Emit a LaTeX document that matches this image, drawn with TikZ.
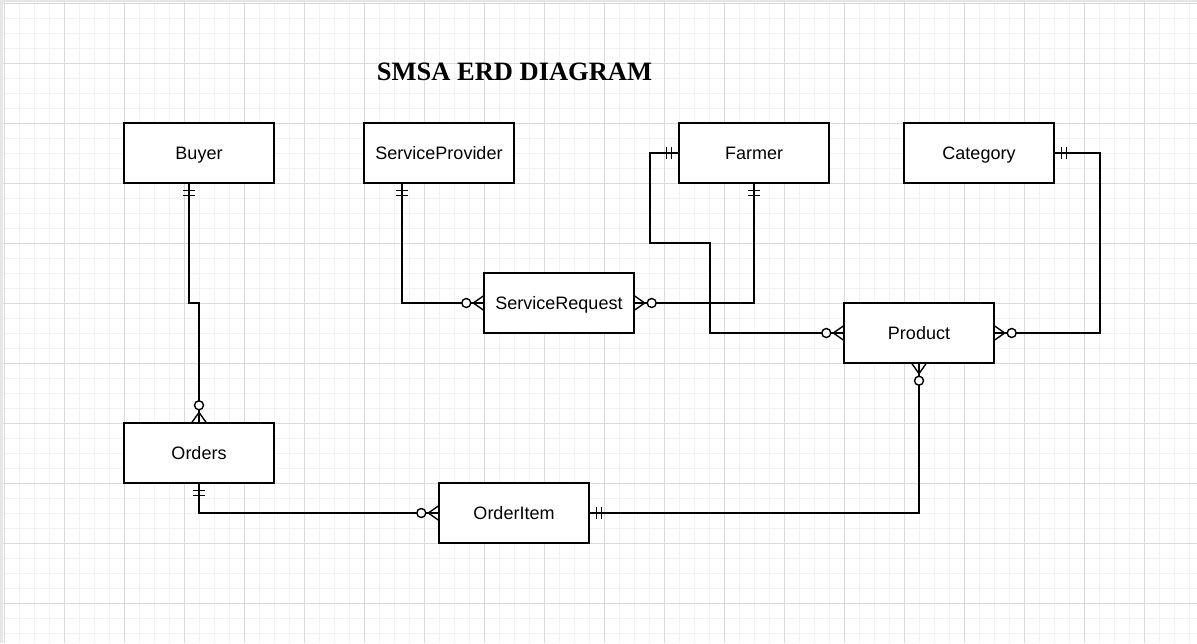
\documentclass[tikz,border=0pt]{standalone}
\usepackage{fontspec}
\setmainfont{Liberation Sans}
\newfontfamily\titlefont{Liberation Serif}
\usetikzlibrary{calc}
\definecolor{gridmajor}{HTML}{DADADA}
\definecolor{gridminor}{HTML}{F2F2F2}
\definecolor{edgegray}{HTML}{E6E6E6}
\tikzset{
  entity/.style={draw=black, line width=1.4pt, fill=white, minimum width=150pt, minimum height=60pt, inner sep=0pt, text height=15pt, text depth=2pt, font=\fontsize{18}{20}\selectfont},
  rel/.style={draw=black, line width=1.4pt},
  onemand/.pic={\draw[line width=1.4pt] (7,-6) -- (7,6); \draw[line width=1.4pt] (12,-6) -- (12,6);},
  zeromany/.pic={\draw[line width=1.4pt] (0,-7) -- (10,0) -- (0,7); \draw[line width=1.4pt] (0,0) -- (12,0); \draw[line width=1.4pt, fill=white] (17,0) circle (4.5);}
}
\begin{document}
\begin{tikzpicture}[x=1pt,y=-1pt]
\useasboundingbox (0,0) rectangle (1197,643);
\fill[white] (0,0) rectangle (1197,643);
% grid
\foreach \gx in {4,19,...,1197} \draw[gridminor, line width=1pt] (\gx,0) -- (\gx,643);
\foreach \gy in {3,18,...,643} \draw[gridminor, line width=1pt] (0,\gy) -- (1197,\gy);
\foreach \gx in {4,64,...,1197} \draw[gridmajor, line width=1pt] (\gx,0) -- (\gx,643);
\foreach \gy in {3,63,...,643} \draw[gridmajor, line width=1pt] (0,\gy) -- (1197,\gy);
\fill[edgegray] (0,0) rectangle (1197,2);
\fill[edgegray] (0,0) rectangle (3,643);

\node[anchor=base, font=\titlefont\bfseries\fontsize{26.5}{28}\selectfont] (title) at (514.5,80) {SMSA ERD DIAGRAM};

\node[entity] (buyer) at (199,153) {Buyer};
\node[entity] (sp) at (439,153) {ServiceProvider};
\node[entity] (farmer) at (754,153) {Farmer};
\node[entity] (category) at (979,153) {Category};
\node[entity] (sr) at (559,303) {ServiceRequest};
\node[entity] (product) at (919,333) {Product};
\node[entity] (orders) at (199,453) {Orders};
\node[entity] (orderitem) at (514,513) {OrderItem};

\coordinate (b1) at ($(buyer.south)+(-10,0)$);
\coordinate (s1) at ($(sp.south)+(-37,0)$);

\draw[rel] (b1) -- (189,303) -- (199,303) -- (orders.north);
\draw[rel] (s1) -- (s1 |- sr.west) -- (sr.west);
\draw[rel] (farmer.south) -- (farmer.south |- sr.east) -- (sr.east);
\draw[rel] (farmer.west) -- (650,153) -- (650,243) -- (710,243) -- (710,333) -- (product.west);
\draw[rel] (category.east) -- (1100,153) -- (1100,333) -- (product.east);
\draw[rel] (product.south) -- (product.south |- orderitem.east) -- (orderitem.east);
\draw[rel] (orders.south) -- (orders.south |- orderitem.west) -- (orderitem.west);

\pic[rotate=-90] at (b1) {onemand};
\pic[rotate=90] at (orders.north) {zeromany};
\pic[rotate=-90] at (s1) {onemand};
\pic[rotate=180] at (sr.west) {zeromany};
\pic[rotate=0] at (sr.east) {zeromany};
\pic[rotate=-90] at (farmer.south) {onemand};
\pic[rotate=180] at (farmer.west) {onemand};
\pic[rotate=180] at (product.west) {zeromany};
\pic[rotate=0] at (category.east) {onemand};
\pic[rotate=0] at (product.east) {zeromany};
\pic[rotate=-90] at (product.south) {zeromany};
\pic[rotate=0] at (orderitem.east) {onemand};
\pic[rotate=-90] at (orders.south) {onemand};
\pic[rotate=180] at (orderitem.west) {zeromany};
\end{tikzpicture}
\end{document}
